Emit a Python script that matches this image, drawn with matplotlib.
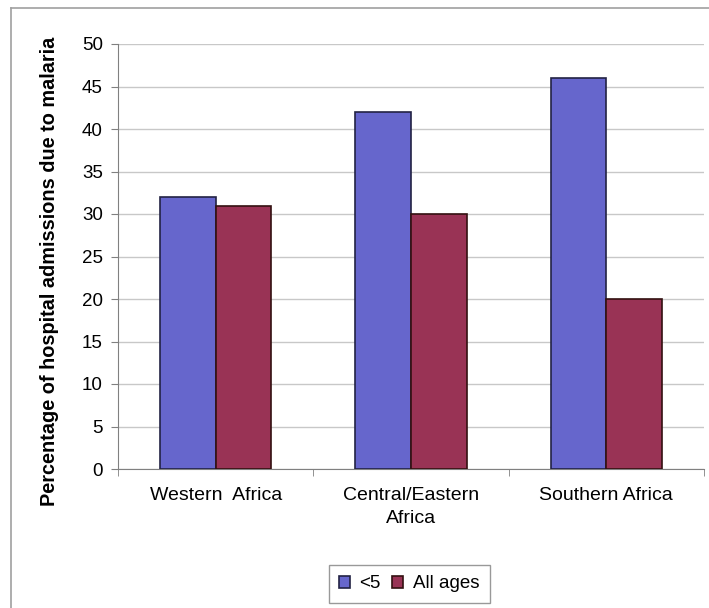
import matplotlib.pyplot as plt
import numpy as np
from matplotlib.lines import Line2D

plt.rcParams['font.family'] = ['Liberation Sans', 'DejaVu Sans']

regions = ["Western  Africa", "Central/Eastern\nAfrica", "Southern Africa"]
under5 = [32, 42, 46]
all_ages = [31, 30, 20]

fig = plt.figure(figsize=(7.09, 6.08), dpi=100)
ax = fig.add_axes([118/709, 1 - 469/608, (704 - 118)/709, (469 - 44)/608])

x = np.arange(len(regions))
w = 0.285
ax.bar(x - w/2, under5, w, color='#6666CC', edgecolor='#222244', linewidth=1.2, label='<5', zorder=3)
ax.bar(x + w/2, all_ages, w, color='#993355', edgecolor='#331111', linewidth=1.2, label='All ages', zorder=3)

ax.set_xlim(-0.5, 2.5)
ax.set_ylim(0, 50)
ax.set_yticks(np.arange(0, 51, 5))
ax.tick_params(axis='y', labelsize=13.5, length=5, color='#808080', pad=6)
ax.set_xticks(x)
ax.set_xticklabels(regions, fontsize=14, linespacing=1.45)
ax.tick_params(axis='x', length=0, pad=13)
ax.set_xticks([-0.5, 0.5, 1.5, 2.5], minor=True)
ax.tick_params(axis='x', which='minor', length=5, color='#808080')
ax.grid(axis='y', color='#c8c8c8', linewidth=1, zorder=0)
ax.set_axisbelow(True)
for s in ['top', 'right']:
    ax.spines[s].set_visible(False)
ax.spines['left'].set_color('#808080')
ax.spines['bottom'].set_color('#808080')

ax.set_ylabel("Percentage of hospital admissions due to malaria", fontsize=14.3, fontweight='bold')
ax.yaxis.set_label_coords(-0.1, 0.465)

leg = fig.legend(loc='center', bbox_to_anchor=(409/709, 1 - 584/608), ncol=2, fontsize=13.5,
                 frameon=True, fancybox=False, edgecolor='#808080', handlelength=0.6, handleheight=0.6,
                 handletextpad=0.5, columnspacing=0.6, borderpad=0.55, borderaxespad=0)

# outer chart-area border (left and top edges visible)
fig.add_artist(Line2D([11/709, 11/709], [0, 1 - 8/608], color='#a0a0a0', linewidth=1.2))
fig.add_artist(Line2D([11/709, 1], [1 - 8/608, 1 - 8/608], color='#a0a0a0', linewidth=1.2))

fig.savefig('out.png', dpi=100)
